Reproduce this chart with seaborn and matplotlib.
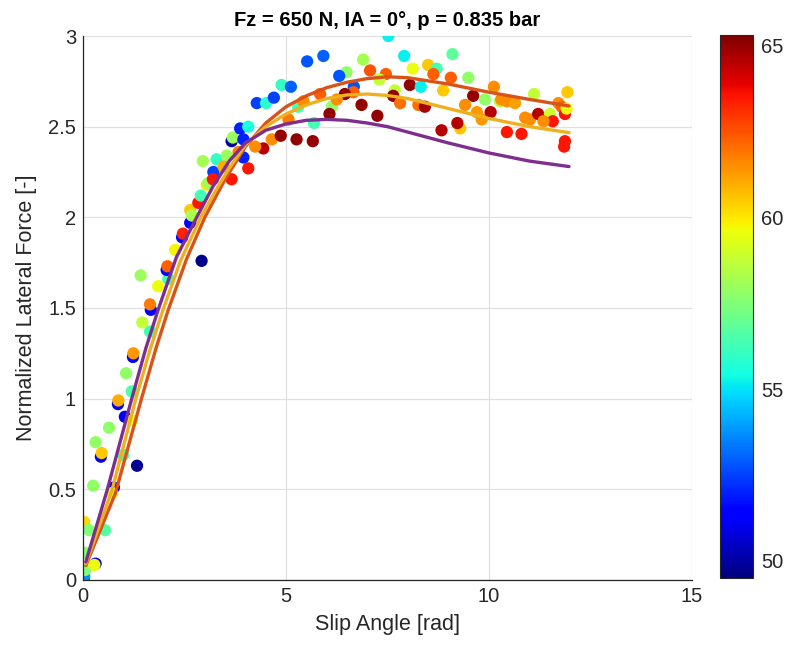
import numpy as np
import pandas as pd
import matplotlib
matplotlib.use("Agg")
import matplotlib.pyplot as plt
from matplotlib.ticker import FuncFormatter
import seaborn as sns

# Measured points: slip angle, normalized lateral force, colour quantity
slip = [0.02, 0.03, 0.05, 0.05, 0.31, 0.28, 0.01, 0.03, 0.15, 0.54,
        0.25, 0.76, 0.72, 0.44, 0.46, 0.31, 0.99, 1.33, 0.64, 1.03,
        1.21, 0.86, 0.87, 1.20, 1.06, 1.23, 1.24, 1.65, 1.46, 1.67,
        1.65, 1.42, 1.85, 2.10, 2.06, 2.08, 2.27, 2.44, 2.46, 2.64,
        2.64, 2.68, 2.84, 2.90, 2.92, 3.05, 3.09, 3.21, 3.20, 3.66,
        4.07, 2.95, 3.29, 3.54, 3.46, 3.83, 3.66, 3.69, 3.87, 4.07,
        3.95, 3.95, 4.28, 4.51, 4.70, 4.89, 5.12, 4.44, 4.24, 4.65,
        4.87, 5.06, 5.26, 5.66, 5.30, 5.69, 5.52, 5.92, 7.52, 7.91,
        6.90, 6.49, 6.31, 7.07, 7.46, 7.30, 6.67, 6.66, 6.45, 5.84,
        5.43, 6.13, 6.07, 6.86, 7.25, 7.68, 7.64, 7.81, 8.05, 8.12,
        8.32, 8.50, 8.71, 8.63, 8.26, 8.42, 9.10, 9.06, 9.49, 8.87,
        9.61, 9.90, 10.12, 10.27, 9.41, 9.70, 9.82, 10.04, 10.30, 10.44,
        10.64, 9.29, 9.22, 8.83, 10.44, 10.80, 10.89, 11.01, 11.21, 11.11,
        11.50, 11.57, 11.34, 11.71, 11.79, 11.87, 11.93, 11.91, 11.87, 11.85,
        6.25]
force = [0.00, 0.02, 0.055, 0.15, 0.09, 0.083, 0.31, 0.32, 0.275, 0.275,
         0.52, 0.51, 0.48, 0.68, 0.70, 0.76, 0.69, 0.63, 0.84, 0.90,
         0.88, 0.97, 0.99, 1.04, 1.14, 1.23, 1.25, 1.37, 1.42, 1.49,
         1.52, 1.68, 1.62, 1.66, 1.71, 1.73, 1.82, 1.89, 1.91, 1.97,
         2.04, 2.01, 2.08, 2.12, 1.76, 2.18, 2.19, 2.25, 2.21, 2.21,
         2.27, 2.31, 2.32, 2.34, 2.28, 2.36, 2.42, 2.44, 2.49, 2.50,
         2.43, 2.33, 2.63, 2.63, 2.66, 2.73, 2.72, 2.38, 2.39, 2.43,
         2.45, 2.54, 2.43, 2.42, 2.61, 2.52, 2.86, 2.89, 3.00, 2.89,
         2.87, 2.80, 2.78, 2.81, 2.79, 2.76, 2.72, 2.69, 2.68, 2.68,
         2.64, 2.61, 2.57, 2.62, 2.56, 2.70, 2.67, 2.63, 2.73, 2.82,
         2.72, 2.84, 2.82, 2.79, 2.62, 2.61, 2.90, 2.77, 2.77, 2.70,
         2.67, 2.65, 2.72, 2.64, 2.62, 2.58, 2.54, 2.58, 2.65, 2.64,
         2.63, 2.49, 2.52, 2.48, 2.47, 2.46, 2.55, 2.54, 2.57, 2.68,
         2.57, 2.53, 2.53, 2.63, 2.61, 2.57, 2.69, 2.60, 2.42, 2.39,
         2.65]
level = [49.8, 53.8, 57.5, 57.5, 51.5, 59.5, 51.5, 60.3, 57.5, 56.6,
         57.8, 51.2, 59.5, 51.5, 60.5, 57.8, 56.5, 49.8, 57.8, 51.2,
         59.5, 51.5, 61.0, 56.5, 57.8, 51.5, 61.3, 56.3, 58.7, 51.5,
         61.8, 58.0, 59.5, 56.3, 51.5, 62.3, 59.8, 51.5, 63.3, 51.5,
         60.5, 58.3, 63.5, 56.3, 49.7, 60.0, 58.0, 52.5, 63.5, 63.5,
         63.5, 58.2, 56.0, 58.0, 61.0, 61.8, 50.0, 58.0, 52.0, 55.6,
         52.0, 52.0, 52.5, 55.8, 52.5, 56.0, 53.0, 64.5, 61.5, 61.5,
         65.0, 61.8, 65.0, 65.0, 56.3, 56.3, 52.8, 53.0, 55.2, 55.2,
         58.2, 57.8, 52.8, 62.5, 62.3, 58.7, 52.8, 62.3, 65.0, 62.3,
         61.5, 57.8, 65.0, 65.0, 65.0, 58.7, 65.0, 62.0, 65.0, 59.5,
         55.2, 60.5, 56.3, 62.3, 62.0, 64.8, 56.8, 62.3, 57.8, 60.5,
         65.0, 57.8, 61.5, 58.5, 61.5, 61.3, 61.3, 64.5, 61.5, 61.5,
         61.2, 60.5, 64.5, 64.5, 63.5, 63.5, 61.5, 61.5, 64.5, 58.7,
         59.0, 63.5, 61.5, 61.5, 62.3, 63.5, 60.5, 59.5, 63.5, 63.5,
         61.5]

# Fitted curves
fit_a_x = [0.07, 0.80, 1.44, 1.80, 2.10, 2.55, 3.00, 3.50, 4.00, 4.50, 5.00,
           5.50, 6.00, 6.50, 7.00, 7.50, 8.00, 9.00, 10.00, 11.00, 11.97]
fit_a_y = [0.08, 0.48, 1.00, 1.28, 1.49, 1.77, 2.00, 2.21, 2.39, 2.52, 2.61,
           2.67, 2.715, 2.745, 2.765, 2.775, 2.77, 2.735, 2.69, 2.65, 2.614]
fit_b_x = [0.07, 0.72, 1.30, 1.65, 1.97, 2.40, 2.90, 3.30, 3.60, 4.00, 4.50,
           5.00, 5.50, 6.00, 6.50, 7.00, 7.50, 8.00, 9.00, 10.00, 11.00, 11.97]
fit_b_y = [0.09, 0.50, 1.00, 1.27, 1.49, 1.76, 2.00, 2.16, 2.27, 2.40, 2.50,
           2.57, 2.62, 2.655, 2.675, 2.68, 2.672, 2.655, 2.60, 2.545, 2.50, 2.467]
fit_c_x = [0.07, 0.60, 1.20, 1.55, 1.85, 2.30, 2.80, 3.20, 3.60, 4.00, 4.50,
           5.00, 5.50, 6.00, 6.50, 7.00, 7.50, 8.00, 9.00, 10.00, 11.00, 11.97]
fit_c_y = [0.10, 0.50, 1.00, 1.28, 1.49, 1.78, 2.00, 2.17, 2.31, 2.41, 2.48,
           2.515, 2.535, 2.54, 2.535, 2.52, 2.50, 2.47, 2.41, 2.355, 2.31, 2.28]

x_ticks = [0, 5, 10, 15]
y_ticks = [0, 0.5, 1, 1.5, 2, 2.5, 3]
cbar_ticks = [50, 55, 60, 65]
c_lim = (49.5, 65.3)

title = "Fz = 650 N, IA = 0°, p = 0.835 bar"
x_label = "Slip Angle [rad]"
y_label = "Normalized Lateral Force [-]"

sns.set_style("white")
plt.rcParams["font.family"] = ["Liberation Sans", "DejaVu Sans"]
text_color = "#262626"
jet = matplotlib.colormaps["jet"]

fig = plt.figure(figsize=(7.87, 6.51), dpi=100)
ax = fig.add_axes([0.1055, 0.1091, 0.7738, 0.8356])
cax = fig.add_axes([0.9149, 0.1121, 0.0419, 0.834])

df = pd.DataFrame({"slip": slip, "force": force, "level": level})
norm = plt.Normalize(*c_lim)
sns.scatterplot(data=df, x="slip", y="force", hue="level", palette=jet,
                hue_norm=norm, s=78, linewidth=0, alpha=1.0, legend=False,
                ax=ax, zorder=2)

for fx, fy, col in [(fit_a_x, fit_a_y, "#D95319"),
                    (fit_b_x, fit_b_y, "#EDB120"),
                    (fit_c_x, fit_c_y, "#7E2F8E")]:
    sns.lineplot(x=fx, y=fy, color=col, linewidth=2.4, sort=False,
                 estimator=None, ax=ax, zorder=3,
                 solid_joinstyle="round", solid_capstyle="round")

ax.set_xlim(0, 15)
ax.set_ylim(0, 3)
ax.set_xticks(x_ticks)
ax.set_yticks(y_ticks)
ax.yaxis.set_major_formatter(FuncFormatter(lambda v, p: f"{v:g}"))
ax.grid(True, color="#e0e0e0", linewidth=0.9)
ax.set_axisbelow(True)
for side in ["top", "right"]:
    ax.spines[side].set_visible(False)
for side in ["left", "bottom"]:
    ax.spines[side].set_color(text_color)
    ax.spines[side].set_linewidth(0.9)
ax.tick_params(direction="in", length=5, width=0.8, colors=text_color,
               labelsize=14.5, pad=5)
ax.set_xlabel(x_label, fontsize=15.5, color=text_color, labelpad=6)
ax.set_ylabel(y_label, fontsize=15.5, color=text_color, labelpad=8)
ax.set_title(title, fontsize=14.5, fontweight="bold", color="black", pad=7)

sm = plt.cm.ScalarMappable(cmap=jet, norm=norm)
cb = fig.colorbar(sm, cax=cax)
cb.set_ticks(cbar_ticks)
cb.outline.set_edgecolor(text_color)
cb.outline.set_linewidth(0.8)
cax.tick_params(direction="in", length=4, width=0.8, colors=text_color,
                labelsize=14.5, pad=6)

fig.savefig("out.png", dpi=100)
